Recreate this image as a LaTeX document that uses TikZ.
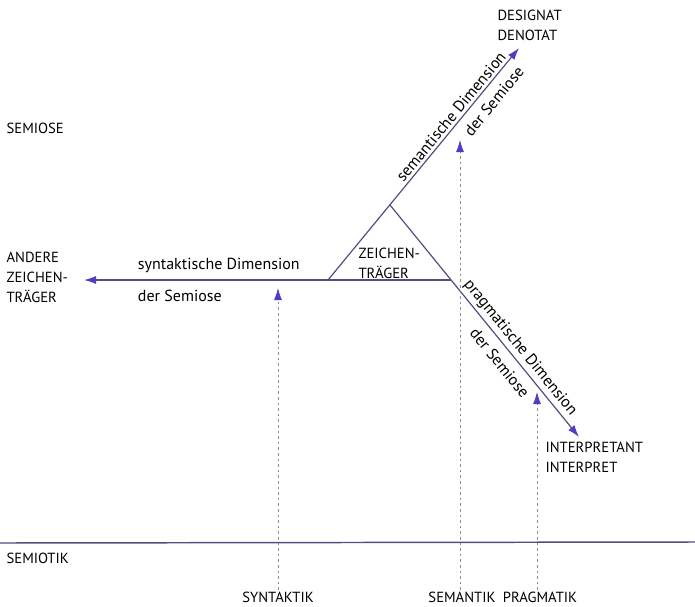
\documentclass[tikz,border=0pt]{standalone}
\usepackage{fontspec}
\setmainfont{PT Sans}
\usepackage{tikz}
\usetikzlibrary{arrows.meta, positioning, calc}

\definecolor{linecol}{RGB}{82,78,125}
\definecolor{tipcol}{RGB}{78,62,196}

\begin{document}
\begin{tikzpicture}[
			x=0.75pt, y=-0.75pt,
			>={Latex[length=9pt, width=6pt, color=tipcol]},
			lbl/.style={font=\fontsize{11}{15}\selectfont, inner sep=1pt, align=left},
			dim/.style={font=\fontsize{12}{13}\selectfont, inner sep=2pt},
			axis/.style={draw=linecol, line width=0.9pt},
			hint/.style={draw=gray!90, line width=0.6pt, dash pattern=on 2pt off 2.2pt}
			]
			\useasboundingbox (0,0) rectangle (695,606);
			
			% --- Punkte des Dreiecks ---
			\coordinate (tri-left) at (328,280);
			\coordinate (tri-top) at (390,205);
			\coordinate (tri-right) at (451,280);
			\coordinate (sem-end) at (519,48);
			\coordinate (prag-end) at (579,437);
			\coordinate (syn-end) at (84,280);
			
			% --- Beschriftungen ---
			\node[lbl, anchor=west] (semiose) at (5,128) {SEMIOSE};
			\node[lbl, anchor=west] (andere) at (5,277) {ANDERE\\ZEICHEN-\\TRÄGER};
			\node[lbl, anchor=west] (zeichen) at (357,263) {ZEICHEN-\\TRÄGER};
			\node[lbl, anchor=west] (designat) at (496,25) {DESIGNAT\\DENOTAT};
			\node[lbl, anchor=west] (interpretant) at (544,457) {INTERPRETANT\\INTERPRET};
			\node[lbl, anchor=west] (semiotik) at (5,558) {SEMIOTIK};
			\node[lbl] (syntaktik) at (278,597) {SYNTAKTIK};
			\node[lbl] (semantik) at (462,597) {SEMANTIK};
			\node[lbl] (pragmatik) at (540,597) {PRAGMATIK};
			
			% --- Dimensionen der Semiose ---
			\draw[axis] (tri-left) -- (tri-right);
			\draw[axis, ->] (tri-left) -- (syn-end);
			\node[dim, anchor=west] (syn-a) at (135,265) {syntaktische Dimension};
			\node[dim, anchor=west] (syn-b) at (135,296) {der Semiose};
			\draw[axis, ->] (tri-left) -- node[dim, pos=0.68, sloped, above] (sem-a) {semantische Dimension}
				node[dim, pos=0.81, sloped, below=4pt] (sem-b) {der Semiose} (sem-end);
			\draw[axis, ->] (tri-top) -- node[dim, pos=0.645, sloped, above] (prag-a) {pragmatische Dimension}
				node[dim, pos=0.64, sloped, below=4pt] (prag-b) {der Semiose} (prag-end);
			
			% --- Semiotik ---
			\draw[axis, line width=1.1pt] (0,543) coordinate (line-l) -- (695,542) coordinate (line-r);
			\coordinate (syn-tip) at (278,288);
			\coordinate (sem-tip) at (460,140);
			\coordinate (prag-tip) at (537,392);
			\draw[hint, ->] (syn-tip |- syntaktik.north) -- (syn-tip);
			\draw[hint, ->] (sem-tip |- semantik.north) -- (sem-tip);
			\draw[hint, ->] (prag-tip |- pragmatik.north) -- (prag-tip);
			
		\end{tikzpicture}
\end{document}
